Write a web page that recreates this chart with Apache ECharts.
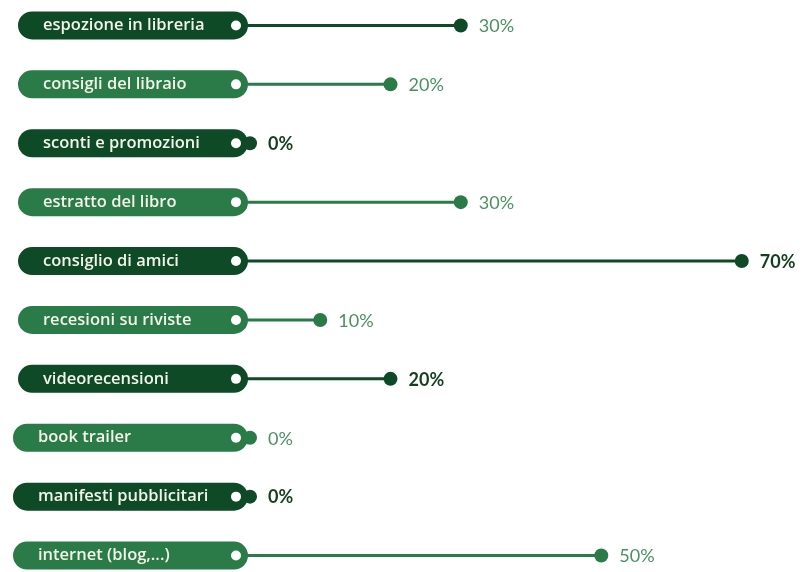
<!DOCTYPE html>
<html>
<head>
<meta charset="utf-8">
<script src="https://cdn.jsdelivr.net/npm/echarts@6/dist/echarts.min.js"></script>
<style>
  html, body { margin: 0; padding: 0; background: #ffffff; }
  #chart { width: 805px; height: 572px; }
</style>
</head>
<body>
<div id="chart"></div>
<script>
// Survey: what leads readers to pick a book (share of answers, %)
const categories = [
  'espozione in libreria',
  'consigli del libraio',
  'sconti e promozioni',
  'estratto del libro',
  'consiglio di amici',
  'recesioni su riviste',
  'videorecensioni',
  'book trailer',
  'manifesti pubblicitari',
  'internet (blog,...)'
];
const values = [30, 20, 0, 30, 70, 10, 20, 0, 0, 50];

const DARK = '#0d4a25';
const LIGHT = '#2a7b47';
const LABEL_DARK = '#143f1f';
const LABEL_LIGHT = '#4a9160';

const chart = echarts.init(document.getElementById('chart'));

function renderRow(params, api) {
  const i = params.dataIndex;
  const v = api.value(1);
  const start = api.coord([0, i]);
  const end = api.coord([v, i]);
  const cy = start[1];
  const dark = i % 2 === 0;
  const color = dark ? DARK : LIGHT;
  const pillLeft = i >= 7 ? 13 : 18;
  const pillRight = start[0];
  const h = 28;
  const boldLabel = dark && i > 0;
  const children = [
    {
      type: 'line',
      shape: { x1: pillRight - 6, y1: cy, x2: end[0], y2: cy },
      style: { stroke: color, lineWidth: 3 }
    },
    {
      type: 'rect',
      shape: { x: pillLeft, y: cy - h / 2, width: pillRight - pillLeft - 2, height: h, r: h / 2 },
      style: { fill: color }
    },
    {
      type: 'circle',
      shape: { cx: end[0], cy: cy, r: 7 },
      style: { fill: color }
    },
    {
      type: 'circle',
      shape: { cx: pillRight - 14, cy: cy, r: 5 },
      style: { fill: '#ffffff' }
    },
    {
      type: 'text',
      style: {
        x: pillLeft + 25, y: cy,
        text: categories[i],
        fill: '#f3f3ea',
        font: '600 16.5px "Open Sans", Lato, sans-serif',
        verticalAlign: 'middle', align: 'left'
      }
    },
    {
      type: 'text',
      style: {
        x: end[0] + 18, y: cy + 1,
        text: v + '%',
        fill: boldLabel ? LABEL_DARK : LABEL_LIGHT,
        font: (boldLabel ? 'bold ' : '') + '18px Lato, "Noto Sans", sans-serif',
        verticalAlign: 'middle', align: 'left'
      }
    }
  ];
  return { type: 'group', children: children };
}

chart.setOption({
  animation: false,
  grid: { left: 250, right: 0, top: -4, height: 589, outerBoundsMode: 'none' },
  xAxis: { type: 'value', min: 0, max: 79, show: false },
  yAxis: { type: 'category', data: categories, inverse: true, show: false },
  series: [{
    type: 'custom',
    clip: false,
    renderItem: renderRow,
    data: values.map((v, i) => [i, v]),
    encode: { x: 1, y: 0 }
  }]
});
</script>
</body>
</html>
